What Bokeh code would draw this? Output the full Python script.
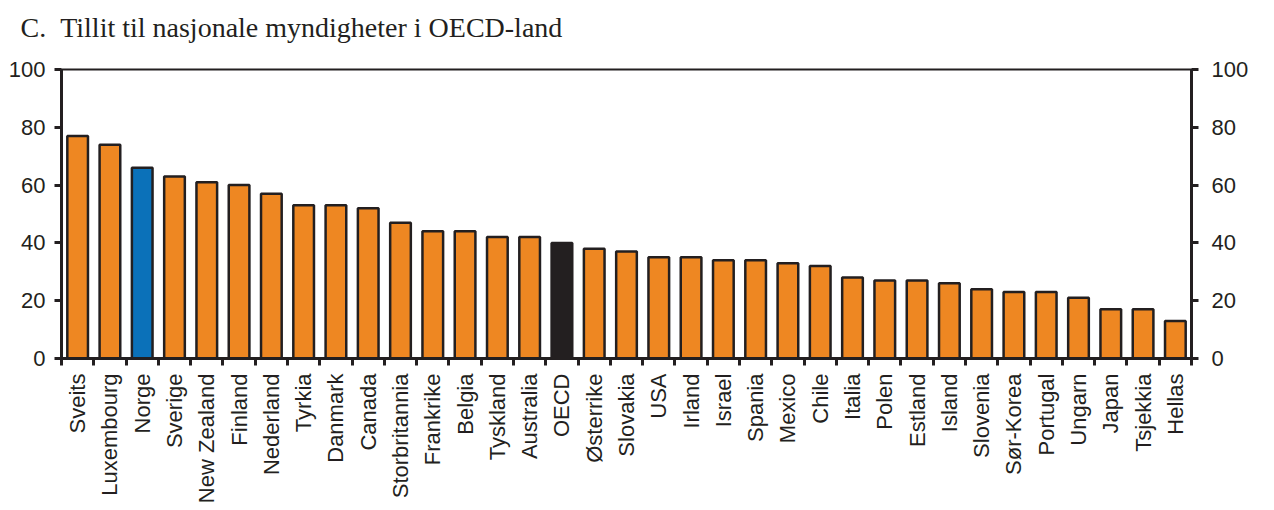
from bokeh.plotting import figure
from bokeh.models import ColumnDataSource, Range1d, LinearAxis, FixedTicker, Title
from bokeh.embed import file_html
from bokeh.resources import INLINE

countries = ["Sveits", "Luxembourg", "Norge", "Sverige", "New Zealand", "Finland",
             "Nederland", "Tyrkia", "Danmark", "Canada", "Storbritannia", "Frankrike",
             "Belgia", "Tyskland", "Australia", "OECD", "Østerrike", "Slovakia", "USA",
             "Irland", "Israel", "Spania", "Mexico", "Chile", "Italia", "Polen",
             "Estland", "Island", "Slovenia", "Sør-Korea", "Portugal", "Ungarn",
             "Japan", "Tsjekkia", "Hellas"]
values = [77, 74, 66, 63, 61, 60, 57, 53, 53, 52, 47, 44, 44, 42, 42, 40, 38, 37, 35,
          35, 34, 34, 33, 32, 28, 27, 27, 26, 24, 23, 23, 21, 17, 17, 13]
y_ticks = [0, 20, 40, 60, 80, 100]
title_text = "C.\u00a0\u00a0Tillit til nasjonale myndigheter i OECD-land"

ORANGE = "#EE8722"
BLUE = "#0B71B9"
DARK = "#231F20"

colors = [BLUE if c == "Norge" else DARK if c == "OECD" else ORANGE for c in countries]
xs = list(range(len(countries)))
src = ColumnDataSource(dict(x=xs, top=values, color=colors, name=countries))

p = figure(width=1270, height=506, output_backend="svg", toolbar_location=None,
           x_range=Range1d(-0.5, len(countries) - 0.5), y_range=Range1d(0, 100),
           min_border_left=61, min_border_right=79, min_border_top=69,
           min_border_bottom=146, x_axis_type=None, y_axis_type=None)
p.background_fill_color = "white"
p.border_fill_color = "white"
p.grid.visible = False
p.outline_line_color = DARK
p.outline_line_width = 2

p.vbar(x="x", top="top", width=0.64, bottom=0, source=src, fill_color="color",
       line_color=DARK, line_width=2.5)

# title (outermost) plus a thin spacer between it and the frame
p.title.text = title_text
p.title.text_font = "Liberation Serif"
p.title.text_font_size = "28px"
p.title.text_font_style = "normal"
p.title.text_color = DARK
p.title.align = "left"
p.title.offset = -41
p.title.standoff = 0
p.title.vertical_align = "bottom"

spacer = Title(text=" ", text_font_size="1px", standoff=24, text_color="white")
p.add_layout(spacer, "above")

def style_y(ax, standoff):
    ax.ticker = FixedTicker(ticks=y_ticks)
    ax.axis_line_width = 3
    ax.axis_line_color = DARK
    ax.major_tick_line_width = 3
    ax.major_tick_line_color = DARK
    ax.major_tick_out = 7
    ax.major_tick_in = 0
    ax.minor_tick_line_color = None
    ax.major_label_text_font = "Liberation Sans"
    ax.major_label_text_font_size = "22px"
    ax.major_label_text_color = DARK
    ax.major_label_standoff = standoff

yl = LinearAxis()
style_y(yl, 9)
p.add_layout(yl, "left")
yr = LinearAxis()
style_y(yr, 13)
p.add_layout(yr, "right")

xa = LinearAxis()
boundaries = [i - 0.5 for i in range(len(countries) + 1)]
xa.ticker = FixedTicker(ticks=xs, minor_ticks=boundaries)
xa.major_label_overrides = {i: c for i, c in zip(xs, countries)}
xa.major_label_orientation = 1.5707963267948966
xa.major_tick_line_color = None
xa.major_tick_out = 7
xa.major_tick_in = 0
xa.minor_tick_line_color = DARK
xa.minor_tick_line_width = 3
xa.minor_tick_out = 7
xa.minor_tick_in = 0
xa.axis_line_width = 3
xa.axis_line_color = DARK
xa.major_label_text_font = "Liberation Sans"
xa.major_label_text_font_size = "22px"
xa.major_label_text_color = DARK
xa.major_label_standoff = 8
p.add_layout(xa, "below")

open("out.html", "w").write(file_html(p, INLINE))
